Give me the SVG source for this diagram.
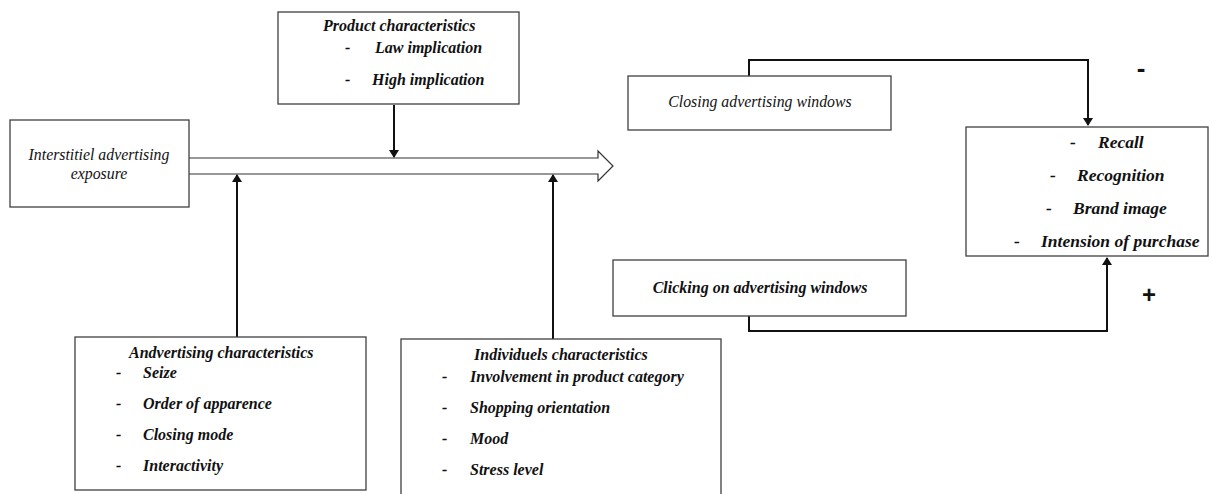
<svg xmlns="http://www.w3.org/2000/svg" width="1213" height="494" viewBox="0 0 1213 494">
<defs>
<style>
.box{fill:#fff;stroke:#404040;stroke-width:1.3}
.t{font-family:"Liberation Serif",serif;font-style:italic;font-weight:bold;font-size:16px;fill:#111}
.r{font-size:17.5px}
.n{font-family:"Liberation Serif",serif;font-style:italic;font-size:15.8px;fill:#111}
.c{stroke:#111;stroke-width:2;fill:none}
</style>
<marker id="ah" markerWidth="8" markerHeight="10" refX="7" refY="5" orient="auto" markerUnits="userSpaceOnUse">
<path d="M0,0 L8,5 L0,10 Z" fill="#111"/>
</marker>
</defs>
<rect width="1213" height="494" fill="#fff"/>

<g id="connectors">
<path d="M189,158 H598 V151 L613,166 L598,181 V174 H189" fill="#fff" stroke="#333" stroke-width="1.2"/>
<line class="c" x1="394" y1="105" x2="394" y2="157" marker-end="url(#ah)"/>
<line class="c" x1="237" y1="337" x2="237" y2="175" marker-end="url(#ah)"/>
<line class="c" x1="553" y1="339" x2="553" y2="175" marker-end="url(#ah)"/>
<polyline class="c" points="749,76 749,60 1088,60 1088,125" marker-end="url(#ah)"/>
<polyline class="c" points="749,316 749,331 1107,331 1107,258" marker-end="url(#ah)"/>
</g>

<g id="product">
<rect class="box" x="278" y="12" width="241" height="92"/>
<text class="t" x="323" y="31">Product characteristics</text>
<text class="t" x="345" y="53">-</text>
<text class="t" x="375" y="53">Law implication</text>
<text class="t" x="345" y="85">-</text>
<text class="t" x="372" y="85">High implication</text>
</g>

<g id="interstitiel">
<rect class="box" x="10" y="120" width="179" height="87"/>
<text class="n" x="99" y="160" text-anchor="middle" font-size="16.6">Interstitiel advertising</text>
<text class="n" x="99" y="179" text-anchor="middle" font-size="16.6">exposure</text>
</g>

<g id="closing">
<rect class="box" x="628" y="76" width="263" height="54"/>
<text class="n" x="760" y="107" text-anchor="middle">Closing advertising windows</text>
</g>

<g id="result">
<rect class="box" x="966" y="127" width="242" height="129"/>
<text class="t r" x="1070" y="148">-</text>
<text class="t r" x="1098" y="148">Recall</text>
<text class="t r" x="1050" y="181">-</text>
<text class="t r" x="1077" y="181">Recognition</text>
<text class="t r" x="1046" y="214">-</text>
<text class="t r" x="1073" y="214">Brand image</text>
<text class="t r" x="1014" y="247">-</text>
<text class="t r" x="1041" y="247">Intension of purchase</text>
</g>

<g id="clicking">
<rect class="box" x="613" y="260" width="293" height="56"/>
<text class="t" x="760" y="293" text-anchor="middle" font-size="15.6">Clicking on advertising windows</text>
</g>

<g id="signs">
<text x="1141" y="77" font-family="Liberation Sans,sans-serif" font-weight="bold" font-size="26" text-anchor="middle" fill="#111">-</text>
<text x="1149" y="303" font-family="Liberation Sans,sans-serif" font-weight="bold" font-size="24" text-anchor="middle" fill="#111">+</text>
</g>

<g id="advertising">
<rect class="box" x="75" y="337" width="291" height="153"/>
<text class="t" x="129" y="358">Andvertising characteristics</text>
<text class="t" x="116" y="378">-</text>
<text class="t" x="143" y="378">Seize</text>
<text class="t" x="116" y="409">-</text>
<text class="t" x="143" y="409">Order of apparence</text>
<text class="t" x="116" y="440">-</text>
<text class="t" x="143" y="440">Closing mode</text>
<text class="t" x="116" y="471">-</text>
<text class="t" x="143" y="471">Interactivity</text>
</g>

<g id="individuels">
<rect class="box" x="401" y="339" width="320" height="160"/>
<text class="t" x="474" y="360">Individuels characteristics</text>
<text class="t" x="442" y="382">-</text>
<text class="t" x="470" y="382">Involvement in product category</text>
<text class="t" x="442" y="413">-</text>
<text class="t" x="470" y="413">Shopping orientation</text>
<text class="t" x="442" y="444">-</text>
<text class="t" x="470" y="444">Mood</text>
<text class="t" x="442" y="475">-</text>
<text class="t" x="470" y="475">Stress level</text>
</g>
</svg>
